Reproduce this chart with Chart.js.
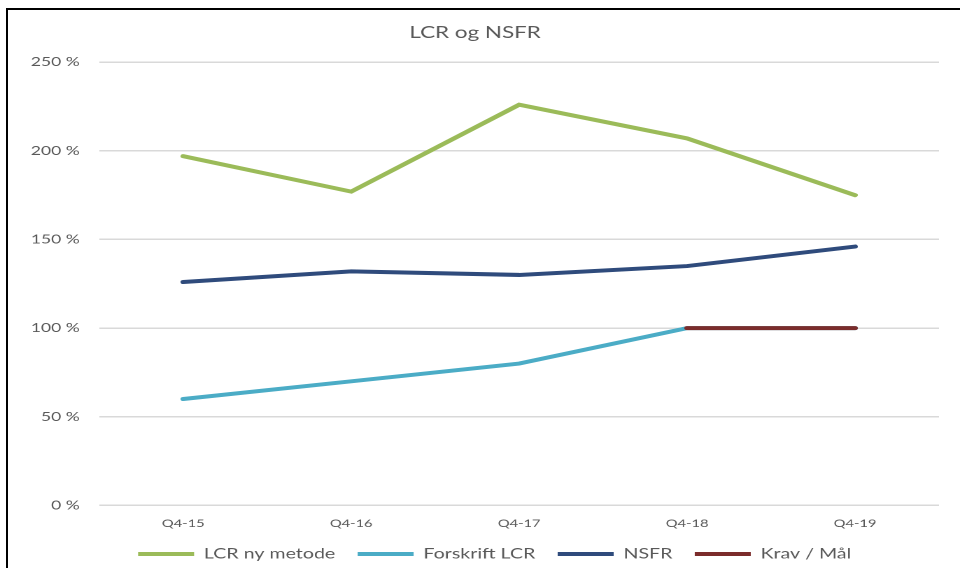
<!DOCTYPE html>
<html>
<head>
<meta charset="utf-8">
<script src="https://cdn.jsdelivr.net/npm/chart.js@4"></script>
<style>
  html, body { margin: 0; padding: 0; background: #fff; }
  #wrap { position: relative; width: 960px; height: 568px; overflow: hidden; }
  #frame { position: absolute; left: 6px; top: 8px; width: 960px; height: 568px;
           border-top: 2px solid #000; border-left: 2px solid #000; box-sizing: border-box; }
  /* the reference picture is stretched sideways, so the chart is drawn narrow and widened */
  #stretch { position: absolute; left: 0; top: 0; width: 686px; height: 568px;
             transform: scaleX(1.3994); transform-origin: 0 0; }
</style>
</head>
<body>
<div id="wrap">
  <div id="frame"></div>
  <div id="stretch"><canvas id="lcrChart" width="686" height="568"></canvas></div>
</div>
<script>
// LCR og NSFR
const quarters = ['Q4-15', 'Q4-16', 'Q4-17', 'Q4-18', 'Q4-19'];
const lcrNyMetode = [197, 177, 226, 207, 175];
const forskriftLcr = [60, 70, 80, 100, 100];
const nsfr = [126, 132, 130, 135, 146];
const kravMaal = [null, null, null, 100, 100];
const yTicks = [0, 50, 100, 150, 200, 250];

const grey = '#595959';
const fontFamily = 'Lato, "Open Sans", sans-serif';

function line(label, data, color, order) {
    return {
        label: label,
        data: data,
        borderColor: color,
        backgroundColor: color,
        borderWidth: 4,
        borderCapStyle: 'round',
        pointRadius: 0,
        pointStyle: 'line',
        tension: 0,
        order: order
    };
}

// legend sits a little right of the canvas centre in the original
const legendShift = {
    id: 'legendShift',
    afterLayout(chart) {
        chart.legend.left += 14;
        chart.legend.right += 14;
    }
};

document.addEventListener('DOMContentLoaded', function() {
    const ctx = document.getElementById('lcrChart');
    new Chart(ctx, {
        type: 'line',
        data: {
            labels: quarters,
            datasets: [
                line('LCR ny metode', lcrNyMetode, '#9BBB59', 2),
                line('Forskrift LCR', forskriftLcr, '#4BACC6', 2),
                line('NSFR', nsfr, '#2F4B7C', 2),
                line('Krav / Mål', kravMaal, '#7B2C2B', 1)
            ]
        },
        plugins: [legendShift],
        options: {
            responsive: false,
            animation: false,
            devicePixelRatio: 2,
            layout: { padding: { left: 8, right: 15, top: 0, bottom: -3 } },
            plugins: {
                title: {
                    display: true,
                    text: 'LCR og NSFR',
                    color: grey,
                    font: { family: fontFamily, size: 16, weight: 'normal' },
                    padding: { top: 23, bottom: 20 }
                },
                legend: {
                    position: 'bottom',
                    // empty title with negative padding pulls the legend row up
                    // so the wide item spacing does not push it down
                    title: { display: true, text: '', font: { size: 10 }, padding: { top: -11.5, bottom: -11.5 } },
                    labels: {
                        color: grey,
                        font: { family: fontFamily, size: 14 },
                        usePointStyle: true,
                        pointStyleWidth: 40,
                        padding: 16,
                        sort: (a, b) => a.datasetIndex - b.datasetIndex
                    }
                },
                tooltip: { enabled: false }
            },
            scales: {
                x: {
                    offset: true,
                    grid: { display: false, drawTicks: false },
                    border: { display: false },
                    ticks: { color: grey, font: { family: fontFamily, size: 10.5 }, padding: 12 }
                },
                y: {
                    min: 0,
                    max: 250,
                    afterBuildTicks: axis => { axis.ticks = yTicks.map(v => ({ value: v })); },
                    grid: { color: '#d9d9d9', lineWidth: 1.5, drawTicks: false },
                    border: { display: false },
                    ticks: {
                        color: grey,
                        font: { family: fontFamily, size: 12.5 },
                        padding: 14,
                        callback: v => v + ' %'
                    }
                }
            }
        }
    });
});
</script>
</body>
</html>
